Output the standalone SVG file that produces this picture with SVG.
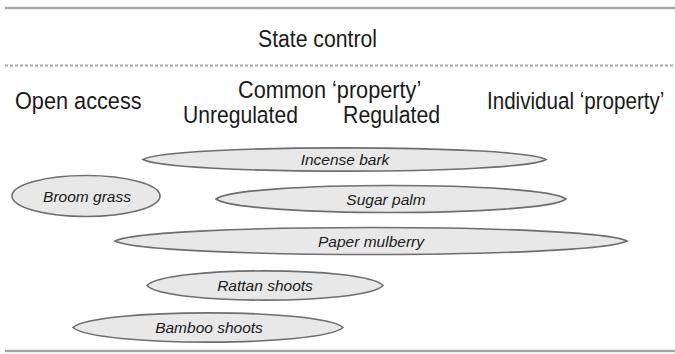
<svg xmlns="http://www.w3.org/2000/svg" width="675" height="354" viewBox="0 0 675 354">
<style>
.rule{stroke:#a6a6a8;stroke-width:2.5;fill:none}
.dash{stroke:#a6a6a8;stroke-width:2;stroke-dasharray:3 2;fill:none}
.hd{font-family:"Liberation Sans",Arial,sans-serif;font-size:21.4px;fill:#1a1a1a}
.shape{fill:#e8e8e9;stroke:#6e6e70;stroke-width:1.6}
.lbl{font-family:"Liberation Sans",Arial,sans-serif;font-size:15.5px;font-style:italic;fill:#1a1a1a;text-anchor:middle}
</style>
<g id="rules">
<line class="rule" x1="5" y1="8" x2="675" y2="8"/>
<line class="dash" x1="5" y1="65.5" x2="675" y2="65.5"/>
<line class="rule" x1="5" y1="351" x2="675" y2="351"/>
</g>
<g id="headings">
<text class="hd" transform="translate(258,46.5) scale(1,1.13)" style="font-size:21.2px">State control</text>
<text class="hd" transform="translate(15,109) scale(1,1.13)" style="font-size:21.7px">Open access</text>
<text class="hd" transform="translate(238,98) scale(1,1.13)" style="font-size:21.7px">Common ‘property’</text>
<text class="hd" transform="translate(183,123) scale(1,1.13)" style="font-size:21.1px">Unregulated</text>
<text class="hd" transform="translate(343,123) scale(1,1.13)" style="font-size:21.3px">Regulated</text>
<text class="hd" transform="translate(487,109) scale(1,1.13)" style="font-size:20.6px">Individual ‘property’</text>
</g>
<g id="connectors"></g>
<g id="incense-bark">
<path class="shape" d="M143,159.5 C170,144 520,144 546,159.5 C520,175 170,175 143,159.5 Z"/>
<text class="lbl" x="345" y="165">Incense bark</text>
</g>
<g id="broom-grass">
<ellipse class="shape" cx="86" cy="196" rx="74" ry="20.5"/>
<text class="lbl" x="87" y="202">Broom grass</text>
</g>
<g id="sugar-palm">
<path class="shape" d="M216,199 C240,181 542,181 566,199 C542,217 240,217 216,199 Z"/>
<text class="lbl" x="386" y="205">Sugar palm</text>
</g>
<g id="paper-mulberry">
<path class="shape" d="M115,241 C150,223 592,223 627,241 C592,259 150,259 115,241 Z"/>
<text class="lbl" x="371" y="247">Paper mulberry</text>
</g>
<g id="rattan-shoots">
<path class="shape" d="M147,285.5 C165,266 365,266 383,285.5 C365,305 165,305 147,285.5 Z"/>
<text class="lbl" x="265" y="291">Rattan shoots</text>
</g>
<g id="bamboo-shoots">
<path class="shape" d="M73,327.5 C95,308 321,308 343,327.5 C321,347 95,347 73,327.5 Z"/>
<text class="lbl" x="209" y="333">Bamboo shoots</text>
</g>
</svg>
